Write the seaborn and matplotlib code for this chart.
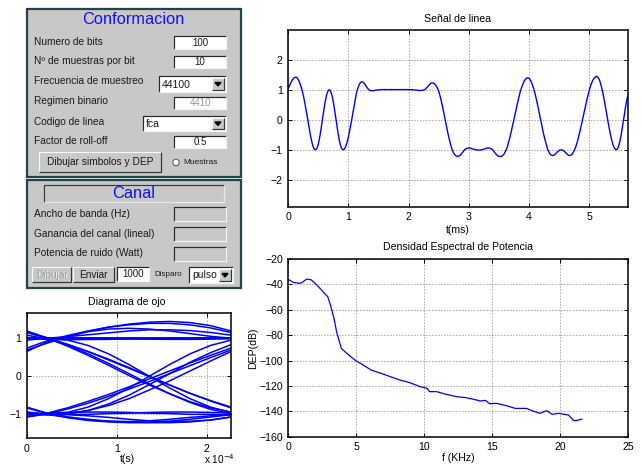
import numpy as np
import pandas as pd
import seaborn as sns
import matplotlib
matplotlib.use("Agg")
import matplotlib.pyplot as plt
from matplotlib.patches import Rectangle, Polygon, Circle

# ---------------- data ----------------
fs = 44100            # sampling frequency (Hz)
samples_per_bit = 10
# line signal (one value per sample, 25 bits shown)
signal = [
    1.04, 1.14, 1.24, 1.32, 1.38, 1.41, 1.41, 1.36, 1.27, 1.15,
    1.0, 0.81, 0.59, 0.34, 0.07, -0.2, -0.46, -0.69, -0.87, -0.98,
    -1.0, -0.95, -0.81, -0.59, -0.31, 0.0, 0.31, 0.59, 0.81, 0.95,
    1.0, 0.95, 0.81, 0.59, 0.31, 0.0, -0.31, -0.59, -0.81, -0.95,
    -1.0, -0.98, -0.9, -0.77, -0.59, -0.36, -0.12, 0.14, 0.4, 0.65,
    0.9, 1.05, 1.17, 1.24, 1.26, 1.24, 1.19, 1.12, 1.05, 1.0,
    0.97, 0.96, 0.965, 0.97, 0.98, 0.985, 0.99, 0.995, 1.0, 1.0,
    1.0, 1.0, 1.0, 1.0, 1.0, 1.0, 1.0, 1.0, 1.0, 1.0,
    1.0, 1.0, 1.0, 1.0, 1.0, 1.0, 1.0, 1.0, 1.0, 1.0,
    1.0, 0.995, 0.99, 0.985, 0.98, 0.975, 0.97, 0.97, 0.975, 0.985,
    1.0, 1.04, 1.09, 1.14, 1.19, 1.22, 1.22, 1.2, 1.15, 1.08,
    0.98, 0.83, 0.65, 0.45, 0.23, 0.0, -0.23, -0.45, -0.65, -0.83,
    -0.98, -1.09, -1.16, -1.2, -1.22, -1.21, -1.18, -1.13, -1.07, -1.01,
    -0.97, -0.95, -0.94, -0.94, -0.95, -0.97, -0.98, -1.0, -1.0, -1.01,
    -1.01, -1.0, -1.0, -0.98, -0.97, -0.95, -0.94, -0.94, -0.95, -0.97,
    -1.01, -1.07, -1.13, -1.18, -1.21, -1.22, -1.22, -1.2, -1.15, -1.07,
    -0.97, -0.83, -0.66, -0.48, -0.28, -0.07, 0.14, 0.35, 0.55, 0.74,
    0.93, 1.07, 1.19, 1.29, 1.35, 1.39, 1.39, 1.35, 1.27, 1.15,
    1.01, 0.84, 0.65, 0.43, 0.21, -0.01, -0.23, -0.45, -0.64, -0.81,
    -0.97, -1.07, -1.15, -1.18, -1.19, -1.17, -1.13, -1.08, -1.04, -1.01,
    -1.0, -1.01, -1.04, -1.08, -1.13, -1.17, -1.19, -1.18, -1.15, -1.07,
    -0.99, -0.86, -0.71, -0.53, -0.34, -0.14, 0.07, 0.28, 0.49, 0.69,
    0.87, 1.04, 1.18, 1.29, 1.37, 1.42, 1.44, 1.41, 1.33, 1.19,
    1.01, 0.79, 0.55, 0.29, 0.02, -0.23, -0.46, -0.67, -0.83, -0.94,
    -0.99, -0.99, -0.9, -0.73, -0.5, -0.22, 0.07, 0.37, 0.62, 0.83,
]

# power spectral density
dep_f = [0.0, 0.37, 0.8, 1.0, 1.35, 1.7, 2.1, 2.6, 2.9, 3.1, 3.36, 3.55, 3.9,
         4.3, 4.9, 5.5, 6.1, 6.75, 7.5, 8.2, 8.95, 9.7, 10.2, 10.4, 10.9,
         11.6, 12.4, 13.1, 13.85, 14.1, 14.5, 14.8, 15.3, 16.05, 16.7, 17.5,
         18.0, 18.5, 19.0, 19.4, 19.85, 20.6, 20.96, 21.15, 21.6]
dep_db = [-36.0, -38.4, -39.2, -38.6, -35.8, -36.5, -40.5, -46.3, -49.7, -56.2,
          -66.8, -77.3, -90.4, -94.3, -99.6, -103.5, -107.5, -109.8, -112.7,
          -115.3, -117.5, -120.6, -121.9, -124.5, -124.5, -126.6, -128.5,
          -129.3, -131.1, -131.9, -131.4, -134.0, -133.7, -135.6, -137.7,
          -137.7, -139.8, -141.6, -139.5, -142.4, -141.6, -142.9, -147.1,
          -147.4, -146.1]

sig_xticks = [0, 1, 2, 3, 4, 5]
sig_yticks = [-2, -1, 0, 1, 2]
dep_xticks = [0, 5, 10, 15, 20, 25]
dep_yticks = [-160, -140, -120, -100, -80, -60, -40, -20]
eye_xticks = [0, 1, 2]
eye_yticks = [-1, 0, 1]

# ---------------- figure ----------------
sns.set_style("white")
plt.rcParams['font.family'] = ['Liberation Sans', 'DejaVu Sans']
plt.rcParams['axes.unicode_minus'] = True

W, H = 642, 468
fig = plt.figure(figsize=(W / 100, H / 100), dpi=100)
fig.patch.set_facecolor('white')

gui = fig.add_axes([0, 0, 1, 1])
gui.set_xlim(0, W)
gui.set_ylim(H, 0)
gui.axis('off')

PANEL = '#c8c8c8'
BORDER = '#1e4646'
TXT = '#1a1a1a'
BLUE = '#1010ff'
PX = 0.72


def rect(x0, y0, x1, y1, fc, ec='none', lw=0, z=1):
    gui.add_patch(Rectangle((x0, y0), x1 - x0, y1 - y0, facecolor=fc,
                            edgecolor=ec, linewidth=lw, zorder=z))


def bevel(x0, y0, x1, y1, tl, br, z=3):
    gui.plot([x0, x0, x1], [y1, y0, y0], color=tl, lw=PX * 1.2, zorder=z,
             solid_capstyle='butt')
    gui.plot([x0, x1, x1], [y1, y1, y0], color=br, lw=PX * 1.2, zorder=z,
             solid_capstyle='butt')


def sunken(x0, y0, x1, y1, fc='white'):
    rect(x0, y0, x1, y1, fc, z=2)
    bevel(x0, y0, x1, y1, '#2a2a2a', '#f4f4f4')


def raised(x0, y0, x1, y1):
    rect(x0, y0, x1, y1, PANEL, z=2)
    bevel(x0, y0, x1, y1, '#f8f8f8', '#2a3a3a')


def label(x, y, s, size=7.3, color=TXT, ha='left'):
    gui.text(x, y, s, fontsize=size, color=color, ha=ha, va='center', zorder=5)


def popup(x0, y0, x1, y1, s):
    sunken(x0, y0, x1, y1)
    raised(x1 - 14, y0 + 2, x1 - 2, y1 - 2)
    cx, cy = x1 - 8, (y0 + y1) / 2
    gui.add_patch(Polygon([[cx - 3, cy - 1.5], [cx + 3, cy - 1.5], [cx, cy + 2]],
                          closed=True, color='black', zorder=6))
    label(x0 + 3, (y0 + y1) / 2 + 0.5, s, size=7.5)


# Conformacion panel
rect(27, 9, 241, 177, PANEL, BORDER, 1.6)
label(133, 20, 'Conformacion', size=11.8, color=BLUE, ha='center')
label(34, 42, 'Numero de bits')
sunken(174, 36, 226, 48.5)
label(200, 42.5, '100', size=7, ha='center')
label(34, 61.5, 'Nº de muestras por bit')
sunken(174, 56, 226, 68)
label(200, 62, '10', size=7, ha='center')
label(34, 81.5, 'Frecuencia de muestreo')
popup(159, 76, 226, 92, '44100')
label(34, 101.5, 'Regimen binario')
sunken(174, 96.5, 226, 108.5)
label(201, 102.5, '4410', size=7, color='#9a9a9a', ha='center')
label(34, 122, 'Codigo de linea')
popup(143, 116, 226, 131, 'fca')
label(34, 141.5, 'Factor de roll-off')
sunken(174, 136, 226, 148)
label(200, 142, '0.5', size=7, ha='center')
raised(39, 152, 161, 172)
label(100, 162, 'Dibujar simbolos y DEP', size=7.3, ha='center')
gui.add_patch(Circle((176, 162.5), 3.2, facecolor='white', edgecolor='#555555',
                     linewidth=0.7, zorder=4))
label(183, 163, 'Muestras', size=6.0)

# Canal panel
rect(27, 180, 241, 288, PANEL, BORDER, 1.6)
rect(44, 185, 224, 201.5, PANEL, z=2)
bevel(44, 185, 224, 201.5, BORDER, '#e8e8e8')
label(134, 193.5, 'Canal', size=11.8, color=BLUE, ha='center')
label(34, 214, 'Ancho de banda (Hz)')
sunken(174, 207, 226, 220.5, fc=PANEL)
label(34, 234, 'Ganancia del canal (lineal)')
sunken(174, 227, 226, 240.5, fc=PANEL)
label(34, 253.5, 'Potencia de ruido (Watt)')
sunken(174, 247, 226, 260.5, fc=PANEL)
raised(32, 267, 71, 282)
label(52.5, 275.3, 'Dibujar', size=7.2, color='#f4f4f4', ha='center')
label(52, 274.8, 'Dibujar', size=7.2, color='#9a9a9a', ha='center')
raised(73, 267, 114, 282)
label(93.5, 275, 'Enviar', size=7.2, ha='center')
sunken(117, 267, 149, 281)
label(133, 274, '1000', size=7, ha='center')
label(154, 274.5, 'Disparo', size=5.8)
popup(189, 267, 233, 283, 'pulso')


def px_rect(x0, y0, x1, y1):
    return [x0 / W, 1 - y1 / H, (x1 - x0) / W, (y1 - y0) / H]


def style(ax):
    for sp in ax.spines.values():
        sp.set_linewidth(1.1)
        sp.set_color('black')
        sp.set_visible(True)
    ax.tick_params(direction='in', length=3, width=0.7, labelsize=7.6,
                   top=True, right=True, bottom=True, left=True, pad=4,
                   colors='black')
    ax.grid(True, color='#4a4a4a', linestyle=(0, (1, 2.6)), linewidth=0.6)
    ax.set_facecolor('white')


def ftext(x, y, s, size=7.6, rot=0, ha='center'):
    fig.text(x / W, 1 - y / H, s, fontsize=size, ha=ha, va='center',
             rotation=rot, color='black')


# Line signal
t_ms = np.arange(len(signal)) / fs * 1000.0
ax1 = fig.add_axes(px_rect(288.3, 30, 628, 206.7))
sns.lineplot(x=t_ms, y=signal, ax=ax1, color='#0000ff', linewidth=1.0)
ax1.set_xlim(0, t_ms[-1])
ax1.set_ylim(-2.89, 2.98)
ax1.set_xticks(sig_xticks)
ax1.set_yticks(sig_yticks)
style(ax1)
ax1.set_xlabel('')
ax1.set_ylabel('')
ftext(458, 19, 'Señal de linea')
ftext(458, 230, 't(ms)')

# DEP
ax2 = fig.add_axes(px_rect(288.3, 259, 628.3, 436.7))
sns.lineplot(x=dep_f, y=dep_db, ax=ax2, color='#0000ff', linewidth=0.9)
ax2.set_xlim(0, 25)
ax2.set_ylim(-160, -20)
ax2.set_xticks(dep_xticks)
ax2.set_yticks(dep_yticks)
style(ax2)
ax2.set_xlabel('')
ax2.set_ylabel('')
ftext(458, 247.5, 'Densidad Espectral de Potencia')
ftext(458, 458, 'f (KHz)')
ftext(253, 348, 'DEP(dB)', rot=90)

# Eye diagram: slices of one bit taken from the line signal
rows = []
for k in range(1, len(signal) // samples_per_bit):
    start = k * samples_per_bit - 1
    seg = signal[start:start + samples_per_bit + 1]
    for i, v in enumerate(seg):
        rows.append({'t': i / fs * 1e4, 'v': v, 'trace': k})
eye = pd.DataFrame(rows)
ax3 = fig.add_axes(px_rect(26.7, 312.7, 231, 438.3))
sns.lineplot(data=eye, x='t', y='v', units='trace', estimator=None,
             color='#0000ff', linewidth=1.1, ax=ax3)
ax3.set_xlim(0, samples_per_bit / fs * 1e4)
ax3.set_ylim(-1.63, 1.67)
ax3.set_xticks(eye_xticks)
ax3.set_yticks(eye_yticks)
style(ax3)
ax3.set_xlabel('')
ax3.set_ylabel('')
ftext(127, 302, 'Diagrama de ojo')
ftext(127, 459, 't(s)')
ftext(204, 459.5, r'x 10$^{-4}$', size=7.2, ha='left')

fig.savefig('out.png', dpi=100, facecolor='white')
